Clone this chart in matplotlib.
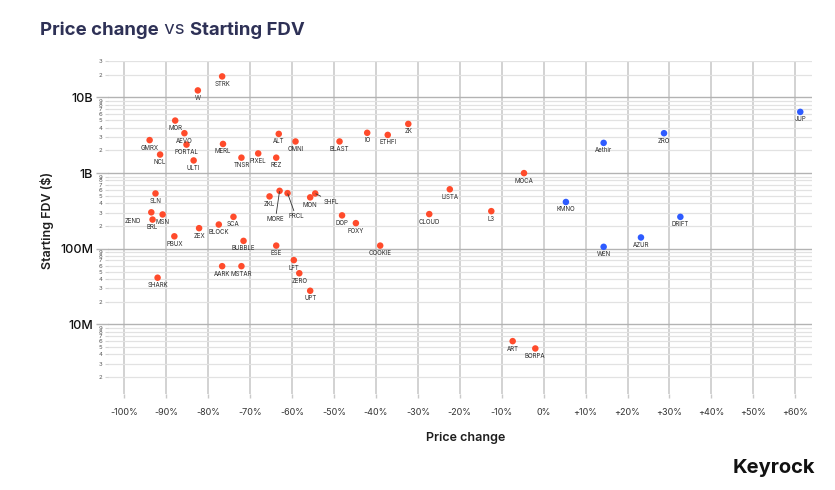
import matplotlib
matplotlib.use("Agg")
import matplotlib.pyplot as plt
from matplotlib.ticker import FixedLocator, FixedFormatter

# ---------------- data ----------------
names = ["STRK", "W", "MOR", "AEVO", "GMRX", "PORTAL", "NCL", "ULTI", "MERL", "TNSR",
         "PIXEL", "REZ", "ALT", "OMNI", "BLAST", "IO", "ETHFI", "ZK", "MOCA", "Aethir",
         "ZRO", "JUP", "SLN", "ZEND", "MSN", "BRL", "PBUX", "ZEX", "BLOCK", "SCA",
         "BUBBLE", "ZKL", "MORE", "PRCL", "MON", "SHFL", "ESE", "DOP", "FOXY", "COOKIE",
         "LFT", "ZERO", "UPT", "LISTA", "CLOUD", "L3", "KMNO", "DRIFT", "AZUR", "WEN",
         "AARK", "MSTAR", "SHARK", "ART", "BORPA"]
price_change = [-76.7, -82.5, -87.9, -85.7, -94.0, -85.2, -91.5, -83.5, -76.5, -72.1,
                -68.1, -63.8, -63.2, -59.2, -48.7, -42.1, -37.2, -32.3, -4.7, 14.3,
                28.7, 61.2, -92.6, -93.6, -90.9, -93.3, -88.1, -82.2, -77.5, -74.0,
                -71.6, -65.4, -63.0, -61.1, -55.7, -54.5, -63.8, -48.1, -44.8, -39.0,
                -59.6, -58.3, -55.7, -22.4, -27.3, -12.5, 5.3, 32.6, 23.2, 14.3,
                -76.7, -72.1, -92.1, -7.4, -2.0]
fdv = [19.0e9, 12.4e9, 4.95e9, 3.37e9, 2.73e9, 2.38e9, 1.76e9, 1.47e9, 2.43e9, 1.60e9,
       1.82e9, 1.60e9, 3.30e9, 2.62e9, 2.62e9, 3.41e9, 3.20e9, 4.47e9, 1.0e9, 2.51e9,
       3.37e9, 6.45e9, 538e6, 303e6, 284e6, 243e6, 146e6, 187e6, 209e6, 264e6,
       127e6, 492e6, 583e6, 543e6, 478e6, 538e6, 110e6, 276e6, 218e6, 110e6,
       70.7e6, 47.4e6, 27.8e6, 611e6, 287e6, 314e6, 415e6, 264e6, 141e6, 106e6,
       58.8e6, 58.8e6, 41.4e6, 6.0e6, 4.8e6]

x_ticks = list(range(-100, 61, 10))
x_tick_labels = [("+%d%%" % v) if v > 0 else ("%d%%" % v) for v in x_ticks]
y_major = [1e7, 1e8, 1e9, 1e10]
y_major_labels = ["10M", "100M", "1B", "10B"]
y_minor_digits = [2, 3, 4, 5, 6, 7, 8, 9]

# ---------------- style ----------------
RED = "#FF4B2B"
BLUE = "#2E5BFF"
TXT = "#2b2b2b"
FONT = ["Inter", "DejaVu Sans"]
plt.rcParams["font.family"] = FONT

# label offsets (points) for labels that are not simply centred below their dot
special = {
    "ZEND": ((-13, -6.5), False),
    "MORE": ((-3, -20.5), True),
    "PRCL": ((6, -16.8), True),
    "SHFL": ((11.5, -5.8), True),
}

fig = plt.figure(figsize=(8.35, 4.9), dpi=100)
W, H = 835, 490
ax = fig.add_axes([107.7 / W, 1 - 394 / H, (812 - 107.7) / W, (394 - 61.4) / H])
ax.set_yscale("log")
ax.set_xlim(-104, 64)
ax.set_ylim(1.2e6, 3e10)

for s in ax.spines.values():
    s.set_visible(False)

# y ticks
minor_vals = []
minor_labels = []
for k in range(6, 11):
    for m in y_minor_digits:
        v = m * 10 ** k
        if 1.2e6 <= v <= 3e10:
            minor_vals.append(v)
            minor_labels.append(str(m))
ax.yaxis.set_major_locator(FixedLocator(y_major))
ax.yaxis.set_major_formatter(FixedFormatter(y_major_labels))
ax.yaxis.set_minor_locator(FixedLocator(minor_vals))
ax.yaxis.set_minor_formatter(FixedFormatter(minor_labels))
ax.tick_params(axis="y", which="major", length=8.5, width=1.0, color="#b5b5b5",
               pad=2, labelsize=9, labelcolor="#111111")
ax.tick_params(axis="y", which="minor", length=2.5, width=0.8, color="#d6d6d6",
               pad=1.5, labelsize=4.3, labelcolor="#555555")
for t in ax.get_yticklabels():
    t.set_fontweight("medium")

# x ticks
ax.set_xticks(x_ticks)
ax.set_xticklabels(x_tick_labels)
ax.tick_params(axis="x", which="major", length=3, width=1.0, color="#c9c9c9",
               pad=7, labelsize=6.5, labelcolor="#333333")
ax.tick_params(axis="x", which="minor", length=0)

# grid
ax.grid(True, axis="y", which="major", color="#b3b3b3", lw=1.0, zorder=0)
ax.grid(True, axis="y", which="minor", color="#e2e2e2", lw=0.9, zorder=0)
ax.grid(True, axis="x", which="major", color="#cbcbcb", lw=1.2, zorder=0)
ax.set_axisbelow(True)

# points
colors = [BLUE if p > 0 else RED for p in price_change]
ax.scatter(price_change, fdv, s=22, c=colors, zorder=3, linewidths=0)

for n, px, fy in zip(names, price_change, fdv):
    if n in special:
        off, line = special[n]
        if line:
            ax.annotate(n, (px, fy), xytext=off, textcoords="offset points",
                        ha="center", va="center", fontsize=4.4, color=TXT,
                        arrowprops=dict(arrowstyle="-", lw=0.6, color="#333333",
                                        shrinkA=0, shrinkB=0.5),
                        zorder=4)
        else:
            ax.annotate(n, (px, fy), xytext=off, textcoords="offset points",
                        ha="center", va="center", fontsize=4.4, color=TXT, zorder=4)
    else:
        ax.annotate(n, (px, fy), xytext=(0, -3.2), textcoords="offset points",
                    ha="center", va="top", fontsize=4.4, color=TXT, zorder=4)

# axis titles
fig.text(47 / W, 1 - 220 / H, "Starting FDV ($)", rotation=90, ha="center", va="center",
         fontsize=9, fontweight="semibold", color="#1e1e1e")
fig.text(466 / W, 1 - 438 / H, "Price change", ha="center", va="center",
         fontsize=9, fontweight="semibold", color="#1e1e1e")

# title in mixed weights
TITLE = "#2E3156"
renderer = fig.canvas.get_renderer()
x0 = 40 / W
ty = 1 - 30 / H
parts = [("Price change", "bold"), (" vs ", "normal"), ("Starting FDV", "bold")]
for txt, wt in parts:
    t = fig.text(x0, ty, txt, ha="left", va="center", fontsize=13.4,
                 fontweight=wt, color=TITLE)
    bb = t.get_window_extent(renderer=renderer)
    x0 += bb.width / W

# brand mark
fig.text(815 / W, 1 - 468 / H, "Keyrock", ha="right", va="center",
         fontsize=14.5, fontweight="bold", color="#111111")

fig.savefig("out.png", dpi=100, facecolor="white")
